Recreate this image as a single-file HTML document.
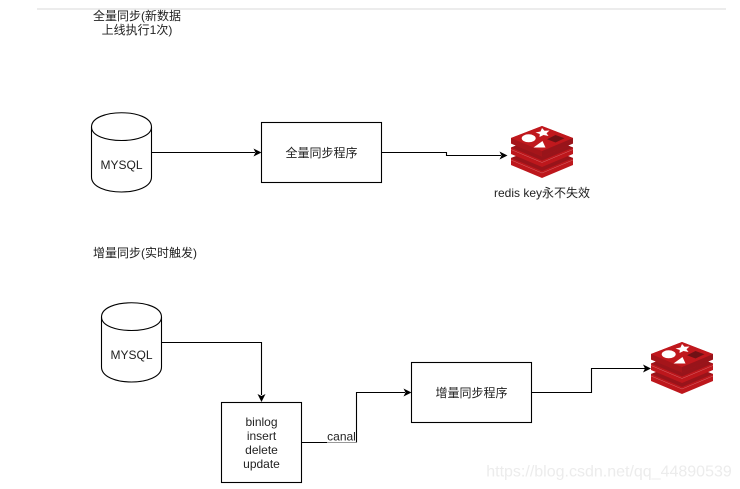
<!DOCTYPE html>
<html>
<head>
<meta charset="utf-8">
<style>
html,body{margin:0;padding:0;background:#fff}
body{width:740px;height:489px;overflow:hidden}
svg{display:block;filter:blur(0.25px)}
text{font-family:"Liberation Sans","Noto Sans CJK SC",sans-serif;font-size:12px;fill:#222;text-anchor:middle}
</style>
</head>
<body>
<svg width="740" height="489" viewBox="0 0 740 489" xmlns="http://www.w3.org/2000/svg">
<defs>
<g id="redis">
<path d="M0 32 L31 20 L62 32 V39 L31 52 L0 39Z" fill="#bd171c"/>
<path d="M0 32 L31 20 L62 32 L31 45Z" fill="#98141a"/>
<path d="M0 34 L31 47 L62 34" fill="none" stroke="#d8686b" stroke-width=".5"/>
<path d="M0 21.5 L31 9.5 L62 21.5 V28 L31 41 L0 28Z" fill="#bd171c"/>
<path d="M0 21.5 L31 9.5 L62 21.5 L31 34.5Z" fill="#98141a"/>
<path d="M0 23.5 L31 36.5 L62 23.5" fill="none" stroke="#d8686b" stroke-width=".5"/>
<path d="M0 12 L31 0 L62 12 V17.5 L31 30.5 L0 17.5Z" fill="#bd171c"/>
<path d="M31 25 L62 12 V17.5 L31 30.5Z" fill="#98141a"/>
<path d="M0 12 L31 25 V30.5 L0 17.5Z" fill="#a5151a"/>
<path d="M0 12 L31 0 L62 12 L31 25Z" fill="#c0181d"/>
<path d="M31 2 L33.5 4.8 L38.5 4.5 L35.5 7.2 L37.5 10 L32.5 9 L28.5 11 L28.8 8 L24.5 6.5 L29.5 5.5Z" fill="#fff"/>
<ellipse cx="17.7" cy="12.3" rx="7" ry="4" fill="#fff"/>
<path d="M22.5 21.5 L34.5 21.5 L31.5 15Z" fill="#fff"/>
<path d="M36 13.2 L44.5 9 L53.5 12.3 L44.5 16.5Z" fill="#6f1115"/>
</g>
</defs>

<rect x="37" y="8" width="689" height="2" fill="#ececec"/>

<g fill="none" stroke="#000" stroke-width="1.1">
<path d="M91.5 127 C91.5 108 151.5 108 151.5 127 V177 C151.5 197 91.5 197 91.5 177Z" fill="#fff"/>
<path d="M91.5 127 C91.5 145 151.5 145 151.5 127"/>
<path d="M101.5 317 C101.5 298 161.5 298 161.5 317 V367 C161.5 387 101.5 387 101.5 367Z" fill="#fff"/>
<path d="M101.5 317 C101.5 335 161.5 335 161.5 317"/>
<rect x="261.5" y="122.5" width="120" height="60" fill="#fff"/>
<rect x="221.5" y="402.5" width="80" height="80" fill="#fff"/>
<rect x="411.5" y="362.5" width="120" height="60" fill="#fff"/>
<path d="M151.5 152.5 H255"/>
<path d="M381.5 152.5 H446.5 V155.5 H501"/>
<path d="M161.5 342.5 H261.5 V395"/>
<path d="M301.5 442.5 H327"/>
<path d="M356.5 442.5 V392.5 H405"/>
<path d="M531.5 392.5 H591.5 V368.5 H645"/>
</g>
<path d="M327 442.5 H356.5" fill="none" stroke="#999" stroke-width="1"/>
<g fill="#000">
<path d="M261.5 152.5 L253.5 148.5 L255.5 152.5 L253.5 156.5Z"/>
<path d="M507.5 155.5 L499.5 151.5 L501.5 155.5 L499.5 159.5Z"/>
<path d="M261.5 402 L257.5 394 L261.5 396 L265.5 394Z"/>
<path d="M411.5 392.5 L403.5 388.5 L405.5 392.5 L403.5 396.5Z"/>
<path d="M651 368.5 L643 364.5 L645 368.5 L643 372.5Z"/>
</g>

<use href="#redis" x="511" y="126"/>
<use href="#redis" x="651" y="342"/>

<text x="137" y="20">全量同步(新数据</text>
<text x="137" y="34">上线执行1次)</text>
<text x="121.5" y="169">MYSQL</text>
<text x="321.5" y="157">全量同步程序</text>
<text x="542" y="197">redis key永不失效</text>
<text x="145" y="257">增量同步(实时触发)</text>
<text x="131.5" y="359">MYSQL</text>
<text x="261.5" y="426">binlog</text>
<text x="261.5" y="440">insert</text>
<text x="261.5" y="454">delete</text>
<text x="261.5" y="468">update</text>
<text x="341.5" y="440.5">canal</text>
<text x="471.5" y="397">增量同步程序</text>
<text x="609" y="476.5" style="font-size:16px;fill:#ececec;text-anchor:middle">https://blog.csdn.net/qq_44890539</text>
</svg>
</body>
</html>
